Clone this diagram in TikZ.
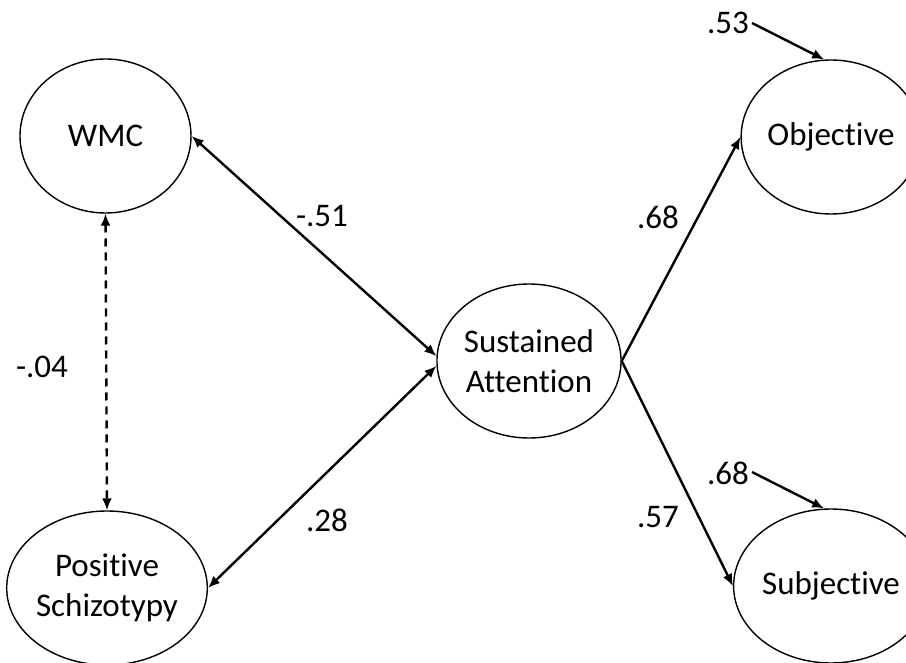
\documentclass[tikz,border=0pt]{standalone}
\usepackage{fontspec}
\setmainfont{Carlito}[Ligatures=NoCommon]
\usetikzlibrary{shapes.geometric,arrows.meta}
\begin{document}
\begin{tikzpicture}[x=1pt,y=-1pt,
  latent/.style={ellipse,draw,line width=1.4pt,minimum width=171pt,minimum height=154pt,
    inner sep=0pt,align=center,font=\fontsize{33}{40}\selectfont},
  coef/.style={inner sep=0pt,font=\fontsize{33}{40}\selectfont},
  oneway/.style={line width=2.4pt,-{Latex[length=12pt,width=10pt]}},
  twoway/.style={line width=2.4pt,{Latex[length=12pt,width=10pt]}-{Latex[length=12pt,width=10pt]}},
  covdash/.style={twoway,dash pattern=on 8pt off 6pt}]
\useasboundingbox (0,0) rectangle (906,663);
\clip (0,0) rectangle (906,663);

% latent variables
\node[latent] (wmc) at (105.5,136) {WMC};
\node[latent] (pos) at (107,588) {Positive\\Schizotypy};
\node[latent] (sa)  at (529,361) {Sustained\\Attention};
\node[latent] (obj) at (831,137) {Objective};
\node[latent] (sub) at (831,586) {Subjective};

% residual origins
\coordinate (r1) at (752,23);
\coordinate (r2) at (752,472);

% paths
\draw[covdash] (wmc.south) -- (pos.north);
\draw[twoway] (wmc.east) -- (sa.177);
\draw[twoway] (pos.east) -- (sa.183);
\draw[oneway] (sa.east) -- (obj.west);
\draw[oneway] (sa.east) -- (sub.west);
\draw[oneway] (r1) -- (obj.95);
\draw[oneway] (r2) -- (sub.95);

% coefficients
\node[coef] (c1) at (322,216) {-.51};
\node[coef] (c2) at (42,367) {-.04};
\node[coef] (c3) at (327,520) {.28};
\node[coef] (c4) at (658,217) {.68};
\node[coef] (c5) at (658,517) {.57};
\node[coef,anchor=east] (c6) at (749,23) {.53};
\node[coef,anchor=east] (c7) at (749,473) {.68};
\end{tikzpicture}
\end{document}
